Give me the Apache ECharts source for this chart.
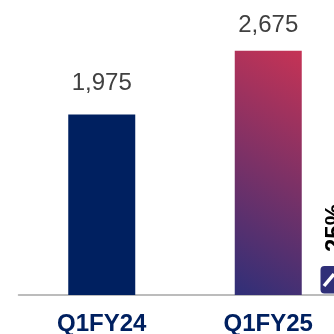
<!DOCTYPE html>
<html><head><meta charset="utf-8">
<style>html,body{margin:0;padding:0;background:#fff;overflow:hidden}#c{width:334px;height:334px}</style>
<script src="https://cdn.jsdelivr.net/npm/echarts@6/dist/echarts.min.js"></script>
</head><body><div id="c"></div>
<script>
var categories = ['Q1FY24', 'Q1FY25'];
var values = [1975, 2675];
var growthLabel = '25%';
var chart = echarts.init(document.getElementById('c'), null, {renderer: 'canvas'});
var font = '"Liberation Sans", Arial, sans-serif';
chart.setOption({
  animation: false,
  backgroundColor: '#fff',
  grid: {left: 18.5, width: 333, top: 21, height: 274, outerBoundsMode: 'none', containLabel: false},
  xAxis: {type: 'category', data: categories,
    axisLine: {lineStyle: {color: '#a6a6a6', width: 1.5}}, axisTick: {show: false},
    axisLabel: {color: '#002060', fontFamily: font, fontWeight: 'bold', fontSize: 24, margin: 17, interval: 0}},
  yAxis: {type: 'value', min: 0, max: 3000, show: false},
  series: [{type: 'bar', barWidth: 67,
    data: [
      {value: values[0], itemStyle: {color: '#002060'}, label: {distance: 19}},
      {value: values[1], itemStyle: {color: {type: 'linear', global: true, x: 206.5, y: 279, x2: 329.5, y2: 66, colorStops: [
        {offset: 0, color: '#2f2f78'}, {offset: 1, color: '#c63355'}]}}, label: {distance: 13}}
    ],
    label: {show: true, position: 'top', color: '#404040', fontFamily: font, fontSize: 24,
      formatter: function (p) { return p.value.toLocaleString('en-US'); }}
  }],
  graphic: [
    {type: 'text', x: 347, y: 252, rotation: Math.PI / 2, style: {text: growthLabel, fill: '#000', font: 'bold 24px ' + font, textAlign: 'left', textVerticalAlign: 'bottom'}},
    {type: 'rect', shape: {x: 320.5, y: 266, width: 24, height: 27.5, r: 4}, style: {fill: '#2f2f78'}},
    {type: 'polyline', shape: {points: [[324, 286], [334, 274]]}, style: {stroke: '#fff', lineWidth: 3.5, fill: null}}
  ]
});
</script></body></html>
